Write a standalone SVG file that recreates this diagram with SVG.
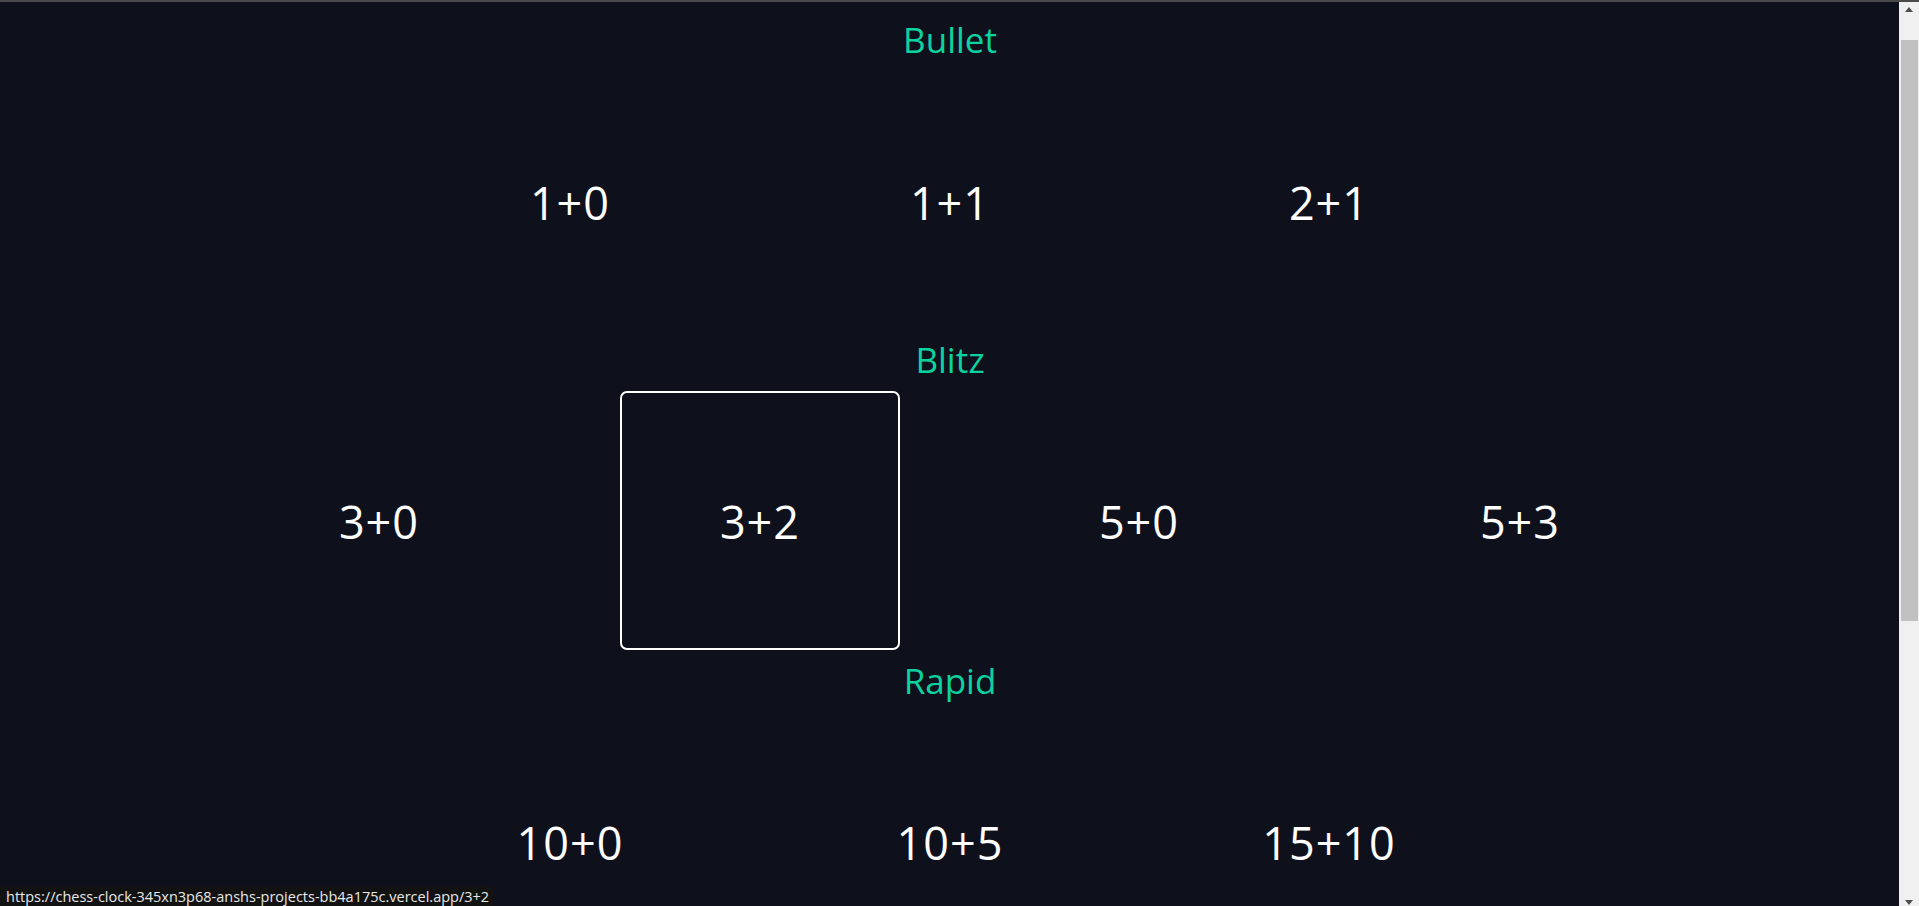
<svg xmlns="http://www.w3.org/2000/svg" width="1919" height="906" viewBox="0 0 1919 906">
<style>
.bg{fill:#0e101c}
.cat{fill:#0bd3a0;font-family:"Open Sans","Noto Sans",sans-serif;font-size:35px;text-anchor:middle}
.t{fill:#ffffff;font-family:"Open Sans","Noto Sans",sans-serif;font-size:45px;text-anchor:middle;letter-spacing:1px}
.sel{fill:none;stroke:#ffffff;stroke-width:2}
.status{fill:#e8e8e8;font-family:"Open Sans","Noto Sans",sans-serif;font-size:14.5px}
</style>
<rect class="bg" x="0" y="0" width="1919" height="906"/>
<rect x="0" y="0" width="1919" height="2" fill="#4a4a4a"/>
<g id="headings">
<text id="h-bullet" class="cat" x="950" y="53">Bullet</text>
<text id="h-blitz" class="cat" x="950" y="373">Blitz</text>
<text id="h-rapid" class="cat" x="950" y="694">Rapid</text>
</g>
<g id="connectors"/>
<g id="n-1-0"><text class="t" x="570" y="220">1+0</text></g>
<g id="n-1-1"><text class="t" x="950" y="220">1+1</text></g>
<g id="n-2-1"><text class="t" x="1329" y="220">2+1</text></g>
<g id="n-3-0"><text class="t" x="379" y="539">3+0</text></g>
<g id="n-3-2"><rect class="sel" x="621" y="392" width="278" height="257" rx="6"/><text class="t" x="760" y="539">3+2</text></g>
<g id="n-5-0"><text class="t" x="1139" y="539">5+0</text></g>
<g id="n-5-3"><text class="t" x="1520" y="539">5+3</text></g>
<g id="n-10-0"><text class="t" x="570" y="860">10+0</text></g>
<g id="n-10-5"><text class="t" x="950" y="860">10+5</text></g>
<g id="n-15-10"><text class="t" x="1329" y="860">15+10</text></g>
<g id="scrollbar">
<rect x="1899" y="2" width="20" height="904" fill="#f0f0f0"/>
<rect x="1901" y="40" width="17" height="581" fill="#c1c1c1"/>
<polygon points="1905,12 1913,12 1909,7" fill="#505050"/>
<polygon points="1905,900 1913,900 1909,905" fill="#505050"/>
</g>
<g id="statusbar">
<path d="M0,886 H488 a5,5 0 0 1 5,5 V906 H0 Z" fill="#121212"/>
<text class="status" x="6" y="902">https://chess-clock-345xn3p68-anshs-projects-bb4a175c.vercel.app/3+2</text>
</g>
</svg>
